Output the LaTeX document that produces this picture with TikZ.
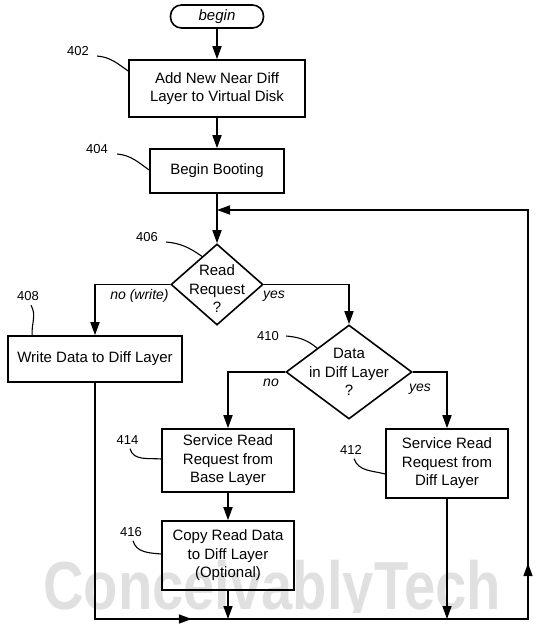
\documentclass[tikz,border=0pt]{standalone}
\usepackage{fontspec}
\setmainfont{Liberation Sans}
\usetikzlibrary{shapes.geometric,arrows.meta,calc,decorations.markings}
\tikzset{
  boxtext/.style={font=\fontsize{15}{18.5}\selectfont},
  procbox/.style={draw,line width=1.6pt,align=center,inner sep=0pt,boxtext},
  terminal/.style={draw,line width=1.6pt,rounded corners=11pt,inner sep=0pt,boxtext},
  decision/.style={draw,diamond,line width=1.6pt,inner sep=0pt},
  reflabel/.style={font=\fontsize{13}{15}\selectfont,inner sep=1pt},
  branchlabel/.style={font=\fontsize{14}{16}\selectfont\itshape,inner sep=0pt},
  watermark/.style={font=\fontsize{68}{68}\selectfont\bfseries,text=black!12,inner sep=0pt,anchor=base west},
  flow/.style={line width=1.6pt,-{Triangle[length=13pt,width=9pt]}},
  leader/.style={line width=1.1pt},
  looparrows/.style 2 args={postaction={decorate,decoration={markings,mark=at position #1 with {\arrow{Triangle[length=13pt,width=9pt]}},mark=at position #2 with {\arrow{Triangle[length=13pt,width=9pt]}}}}}
}

\begin{document}
\begin{tikzpicture}[x=1pt,y=-1pt]
  \useasboundingbox (0,0) rectangle (550,627);
  % watermark behind the chart
  \begin{scope}
    \clip (0,0) rectangle (550,612);
    \node[watermark] (wm) at (43,609) {\scalebox{0.826}[1]{ConceivablyTech}};
  \end{scope}
  % steps
  \node[terminal,minimum width=93pt,minimum height=23pt] (begin) at (217,16.5) {\itshape begin};
  \node[procbox,minimum width=176pt,minimum height=57pt] (s402) at (217,88.5) {Add New Near Diff\\Layer to Virtual Disk};
  \node[procbox,minimum width=134pt,minimum height=44pt] (s404) at (217,171) {Begin Booting};
  \node[decision,minimum width=92pt,minimum height=81pt] (d406) at (217,284.5) {};
  \node[boxtext,align=center,inner sep=0pt] (t406) at (217,289) {Read\\Request\\?};
  \node[procbox,minimum width=174pt,minimum height=46pt] (s408) at (95,359) {Write Data to Diff Layer};
  \node[decision,minimum width=126pt,minimum height=94pt] (d410) at (349,372) {};
  \node[boxtext,align=center,inner sep=0pt] (t410) at (349,372) {Data\\in Diff Layer\\?};
  \node[procbox,minimum width=132pt,minimum height=63pt] (s414) at (228,460.5) {Service Read\\Request from\\Base Layer};
  \node[procbox,minimum width=122pt,minimum height=69pt] (s412) at (447,463.5) {Service Read\\Request from\\Diff Layer};
  \node[procbox,minimum width=132pt,minimum height=69pt] (s416) at (228,555.5) {Copy Read Data\\to Diff Layer\\(Optional)};
  % reference numbers
  \node[reflabel] (l402) at (78,51) {402};
  \node[reflabel] (l404) at (97,149) {404};
  \node[reflabel] (l406) at (147,237) {406};
  \node[reflabel] (l408) at (28,296.5) {408};
  \node[reflabel] (l410) at (268,336) {410};
  \node[reflabel] (l414) at (127.5,440) {414};
  \node[reflabel] (l416) at (131,532) {416};
  \node[reflabel] (l412) at (351,450) {412};
  % branch labels
  \node[branchlabel] (no406) at (139.5,296) {no (write)};
  \node[branchlabel] (yes406) at (274,296) {yes};
  \node[branchlabel] (no410) at (271,383) {no};
  \node[branchlabel] (yes410) at (420,389) {yes};
  % loop corners
  \coordinate (cbl) at (95,619);
  \coordinate (cbr) at (528,619);
  \coordinate (ctr) at (528,210);
  \coordinate (cjoin) at (217,210);
  % flow
  \draw[flow] (begin) -- (s402);
  \draw[flow] (s402) -- (s404);
  \draw[flow] (s404) -- (d406);
  \draw[flow] (d406.west) -| (s408.north);
  \draw[flow] (d406.east) -| (d410.north);
  \draw[flow] (d410.west) -| (s414.north);
  \draw[flow] (d410.east) -| (s412.north);
  \draw[flow] (s414) -- (s416);
  \draw[flow] (s416.south) -- (s416.south |- cbl);
  \draw[flow] (s412.south) -- (s412.south |- cbl);
  \draw[flow,looparrows={333pt}{725pt}] (s408.south) -- (cbl) -- (cbr) -- (ctr) -- (cjoin);
  % leaders
  \draw[leader] ([shift={(7pt,-5pt)}]l402.east) to[out=-5,in=145] ([yshift=17.5pt]s402.west);
  \draw[leader] ([shift={(8pt,-5pt)}]l404.east) to[out=-5,in=145] ([yshift=1pt]s404.west);
  \draw[leader] ([shift={(7pt,-5pt)}]l406.east) to[out=-5,in=145] ($(d406.north)!0.32!(d406.west)$);
  \draw[leader] ([shift={(3pt,-3pt)}]l408.south) to[out=-60,in=95] ([xshift=25pt]s408.north west);
  \draw[leader] ([shift={(6pt,0pt)}]l410.east) to[out=-5,in=140] ($(d410.north)!0.5!(d410.west)$);
  \draw[leader] ([shift={(2.5pt,-3pt)}]l414.south) to[out=-75,in=175] ([yshift=1.5pt]s414.west);
  \draw[leader] ([shift={(2pt,-3pt)}]l416.south) to[out=-75,in=175] ([yshift=1.5pt]s416.west);
  \draw[leader] ([shift={(3pt,-3pt)}]l412.south) to[out=-70,in=165] ([yshift=-10.5pt]s412.west);
\end{tikzpicture}
\end{document}
